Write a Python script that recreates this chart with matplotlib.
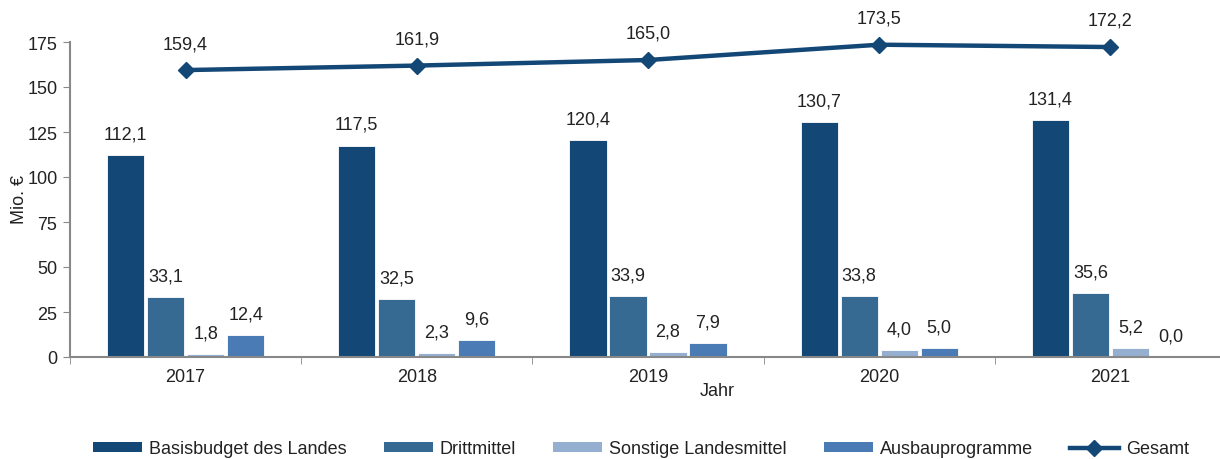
import matplotlib
matplotlib.use("Agg")
import matplotlib.pyplot as plt
import numpy as np
from matplotlib.lines import Line2D
from matplotlib.patches import Patch

plt.rcParams['font.family'] = ['Liberation Sans', 'DejaVu Sans']

years = ["2017", "2018", "2019", "2020", "2021"]
basis = [112.1, 117.5, 120.4, 130.7, 131.4]
dritt = [33.1, 32.5, 33.9, 33.8, 35.6]
sonst = [1.8, 2.3, 2.8, 4.0, 5.2]
ausbau = [12.4, 9.6, 7.9, 5.0, 0.0]
gesamt = [159.4, 161.9, 165.0, 173.5, 172.2]

series_names = ["Basisbudget des Landes", "Drittmittel", "Sonstige Landesmittel", "Ausbauprogramme"]
colors = ["#134876", "#366a93", "#95afd0", "#4a7bb5"]
line_color = "#134876"
text_color = "#222222"
fs = 13

fig = plt.figure(figsize=(12.2, 4.6), dpi=100)
ax = fig.add_axes([70/1220, 102/460, 1156/1220, (358-43)/460])

x = np.arange(len(years))
step = 0.173
width = 0.161
for i, (vals, c) in enumerate(zip([basis, dritt, sonst, ausbau], colors)):
    pos = x + (i - 1.5) * step
    ax.bar(pos, vals, width=width, color=c, edgecolor="white", linewidth=0.6, zorder=2)
    for p, v in zip(pos, vals):
        ax.annotate(f"{v:.1f}".replace(".", ","), (p, v), xytext=(0, 9), textcoords="offset points",
                    ha="center", va="bottom", fontsize=fs, color=text_color, annotation_clip=False)

ax.plot(x, gesamt, color=line_color, linewidth=3.2, marker="D", markersize=8, zorder=3, clip_on=False)
for p, v in zip(x, gesamt):
    ax.annotate(f"{v:.1f}".replace(".", ","), (p, v), xytext=(0, 13), textcoords="offset points",
                ha="center", va="bottom", fontsize=fs, color=text_color, annotation_clip=False)

ax.set_xlim(-0.5, 4.5)
ax.set_ylim(0, 175)
ax.set_yticks([0, 25, 50, 75, 100, 125, 150, 175])
ax.set_xticks(x)
ax.set_xticklabels(years)
ax.set_xticks(np.arange(-0.5, 5.0, 1.0), minor=True)
ax.tick_params(axis="x", which="major", length=0, pad=8, labelsize=fs, labelcolor=text_color)
ax.tick_params(axis="x", which="minor", length=5, color="#888888", direction="out")
ax.tick_params(axis="y", length=5, color="#888888", labelsize=fs, labelcolor=text_color, pad=4)
for s in ["top", "right"]:
    ax.spines[s].set_visible(False)
for s in ["left", "bottom"]:
    ax.spines[s].set_color("#888888")
    ax.spines[s].set_linewidth(1.5)

fig.text(717/1220, 1 - 392/460, "Jahr", ha="center", va="center", fontsize=fs, color=text_color)
fig.text(19/1220, 1 - 200/460, "Mio. €", ha="center", va="center", rotation=90, fontsize=fs, color=text_color)

handles = [Patch(facecolor=c, edgecolor="none") for c in colors]
handles.append(Line2D([0], [0], color=line_color, linewidth=3.2, marker="D", markersize=8))
fig.legend(handles, series_names + ["Gesamt"], loc="center", bbox_to_anchor=(641/1220, 1 - 450/460),
           ncol=5, frameon=False, fontsize=fs, handlelength=2.7, handleheight=0.5,
           columnspacing=2.05, handletextpad=0.4, labelcolor=text_color)

fig.savefig("out.png", dpi=100)
